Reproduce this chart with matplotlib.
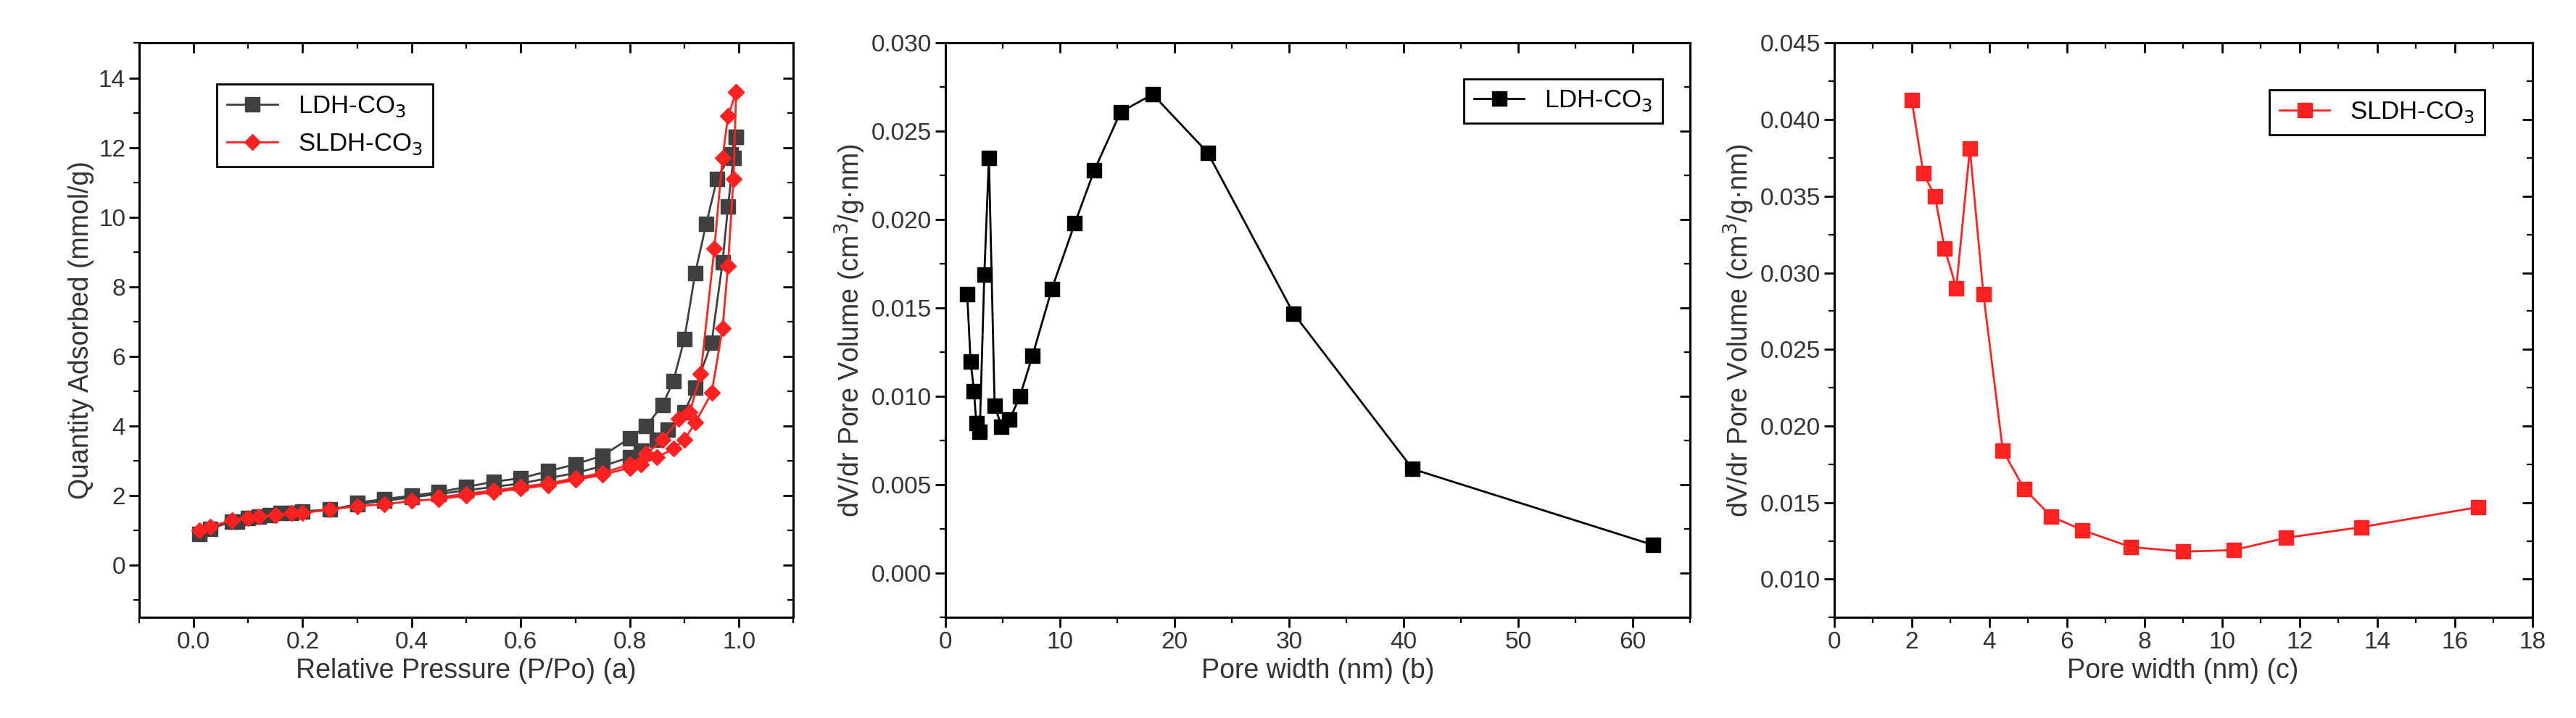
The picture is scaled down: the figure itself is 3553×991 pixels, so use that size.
import matplotlib
matplotlib.use("Agg")
import matplotlib.pyplot as plt
from matplotlib.ticker import MultipleLocator, AutoMinorLocator

plt.rcParams['font.family'] = ['Liberation Sans', 'DejaVu Sans']

# Panel a: isotherms
ldh_ads_x = [0.01,0.03,0.07,0.08,0.1,0.12,0.14,0.16,0.18,0.2,0.25,0.3,0.35,0.4,0.45,0.5,0.55,0.6,0.65,0.7,0.75,0.8,0.82,0.85,0.87,0.9,0.92,0.95,0.97,0.98,0.99,0.995]
ldh_ads_y = [0.9,1.05,1.25,1.25,1.35,1.4,1.45,1.5,1.5,1.55,1.6,1.75,1.85,1.95,2.05,2.15,2.25,2.35,2.5,2.65,2.85,3.1,3.3,3.6,3.9,4.4,5.1,6.4,8.7,10.3,11.7,12.3]
ldh_des_x = [0.995,0.985,0.96,0.94,0.92,0.9,0.88,0.86,0.83,0.8,0.75,0.7,0.65,0.6,0.55,0.5,0.45,0.4,0.35,0.3]
ldh_des_y = [12.3,11.8,11.1,9.8,8.4,6.5,5.3,4.6,4.0,3.65,3.15,2.9,2.7,2.5,2.4,2.25,2.1,2.0,1.9,1.8]
sldh_ads_x = [0.01,0.03,0.07,0.1,0.12,0.15,0.18,0.2,0.25,0.3,0.35,0.4,0.45,0.5,0.55,0.6,0.65,0.7,0.75,0.8,0.82,0.85,0.88,0.9,0.92,0.95,0.97,0.98,0.99,0.995]
sldh_ads_y = [1.0,1.1,1.3,1.35,1.4,1.45,1.5,1.5,1.6,1.7,1.75,1.85,1.9,2.0,2.1,2.2,2.3,2.45,2.6,2.8,2.9,3.1,3.35,3.6,4.1,4.95,6.8,8.6,11.1,13.6]
sldh_des_x = [0.995,0.98,0.97,0.955,0.93,0.91,0.89,0.86,0.83,0.8,0.75,0.7,0.65,0.6,0.55,0.5,0.45]
sldh_des_y = [13.6,12.9,11.7,9.1,5.5,4.4,4.2,3.6,3.2,2.9,2.65,2.5,2.35,2.25,2.15,2.05,1.95]

# Panel b: LDH pore distribution
b_x = [1.9,2.2,2.5,2.7,3.0,3.4,3.8,4.3,4.9,5.6,6.5,7.6,9.3,11.3,13.0,15.3,18.1,22.9,30.4,40.8,61.8]
b_y = [0.0158,0.0120,0.0103,0.0085,0.0080,0.0169,0.0235,0.0095,0.0083,0.0087,0.0100,0.0123,0.0161,0.0198,0.0228,0.0261,0.0271,0.0238,0.0147,0.0059,0.0016]

# Panel c: SLDH pore distribution
c_x = [2.0,2.3,2.6,2.85,3.15,3.5,3.85,4.35,4.9,5.6,6.4,7.65,9.0,10.3,11.65,13.6,16.6]
c_y = [0.0413,0.0365,0.0350,0.0316,0.0290,0.0381,0.0286,0.0184,0.0159,0.0141,0.0132,0.0121,0.0118,0.0119,0.0127,0.0134,0.0147]

fig = plt.figure(figsize=(35.53, 9.91), dpi=100)
axa = fig.add_axes([0.054, 0.14, 0.254, 0.80])
axb = fig.add_axes([0.367, 0.14, 0.289, 0.80])
axc = fig.add_axes([0.712, 0.14, 0.271, 0.80])

GREY = '#404040'
RED = '#ff2020'
lab = dict(fontsize=27, color='#333333')

def style(ax, xmaj, ymaj):
    ax.xaxis.set_major_locator(MultipleLocator(xmaj))
    ax.yaxis.set_major_locator(MultipleLocator(ymaj))
    ax.xaxis.set_minor_locator(AutoMinorLocator(2))
    ax.yaxis.set_minor_locator(AutoMinorLocator(2))
    ax.tick_params(which='major', direction='out', length=10, width=2, labelsize=24, labelcolor='#333333')
    ax.tick_params(which='minor', direction='out', length=6, width=1.6)
    for s in ax.spines.values():
        s.set_linewidth(2.2)
    sec = ax.secondary_xaxis('top')
    sec.xaxis.set_major_locator(MultipleLocator(xmaj))
    sec.xaxis.set_minor_locator(AutoMinorLocator(2))
    sec.tick_params(which='major', direction='in', length=10, width=2, labeltop=False)
    sec.tick_params(which='minor', direction='in', length=6, width=1.6)
    sec = ax.secondary_yaxis('right')
    sec.yaxis.set_major_locator(MultipleLocator(ymaj))
    sec.yaxis.set_minor_locator(AutoMinorLocator(2))
    sec.tick_params(which='major', direction='in', length=10, width=2, labelright=False)
    sec.tick_params(which='minor', direction='in', length=6, width=1.6)

mk = dict(markersize=14, linewidth=2)
axa.plot(ldh_ads_x, ldh_ads_y, '-s', color=GREY, label='LDH-CO$_3$', **mk)
axa.plot(ldh_des_x, ldh_des_y, '-s', color=GREY, **mk)
axa.plot(sldh_ads_x, sldh_ads_y, '-D', color=RED, markersize=11, linewidth=2, label='SLDH-CO$_3$')
axa.plot(sldh_des_x, sldh_des_y, '-D', color=RED, markersize=11, linewidth=2)
axa.set_xlim(-0.1, 1.1)
axa.set_ylim(-1.5, 15)
style(axa, 0.2, 2)
axa.xaxis.set_major_formatter(matplotlib.ticker.FormatStrFormatter('%.1f'))
axa.set_xlabel('Relative Pressure (P/Po) (a)', **lab)
axa.set_ylabel('Quantity Adsorbed (mmol/g)', **lab)
lg = axa.legend(loc='upper left', bbox_to_anchor=(0.1, 0.95), fontsize=25, fancybox=False, edgecolor='black', framealpha=1)
lg.get_frame().set_linewidth(2)

axb.plot(b_x, b_y, '-s', color='black', **mk, label='LDH-CO$_3$')
axb.set_xlim(0, 65)
axb.set_ylim(-0.0025, 0.030)
style(axb, 10, 0.005)
axb.yaxis.set_major_formatter(matplotlib.ticker.FormatStrFormatter('%.3f'))
axb.set_xlabel('Pore width (nm) (b)', **lab)
axb.set_ylabel('dV/dr Pore Volume (cm$^3$/g·nm)', **lab)
lg = axb.legend(loc='upper right', bbox_to_anchor=(0.98, 0.96), fontsize=25, fancybox=False, edgecolor='black', framealpha=1)
lg.get_frame().set_linewidth(2)

axc.plot(c_x, c_y, '-s', color=RED, **mk, label='SLDH-CO$_3$')
axc.set_xlim(0, 18)
axc.set_ylim(0.0075, 0.045)
style(axc, 2, 0.005)
axc.yaxis.set_major_formatter(matplotlib.ticker.FormatStrFormatter('%.3f'))
axc.set_xlabel('Pore width (nm) (c)', **lab)
axc.set_ylabel('dV/dr Pore Volume (cm$^3$/g·nm)', **lab)
lg = axc.legend(loc='upper right', bbox_to_anchor=(0.95, 0.94), fontsize=25, fancybox=False, edgecolor='black', framealpha=1)
lg.get_frame().set_linewidth(2)

fig.savefig('out.png', dpi=100)
